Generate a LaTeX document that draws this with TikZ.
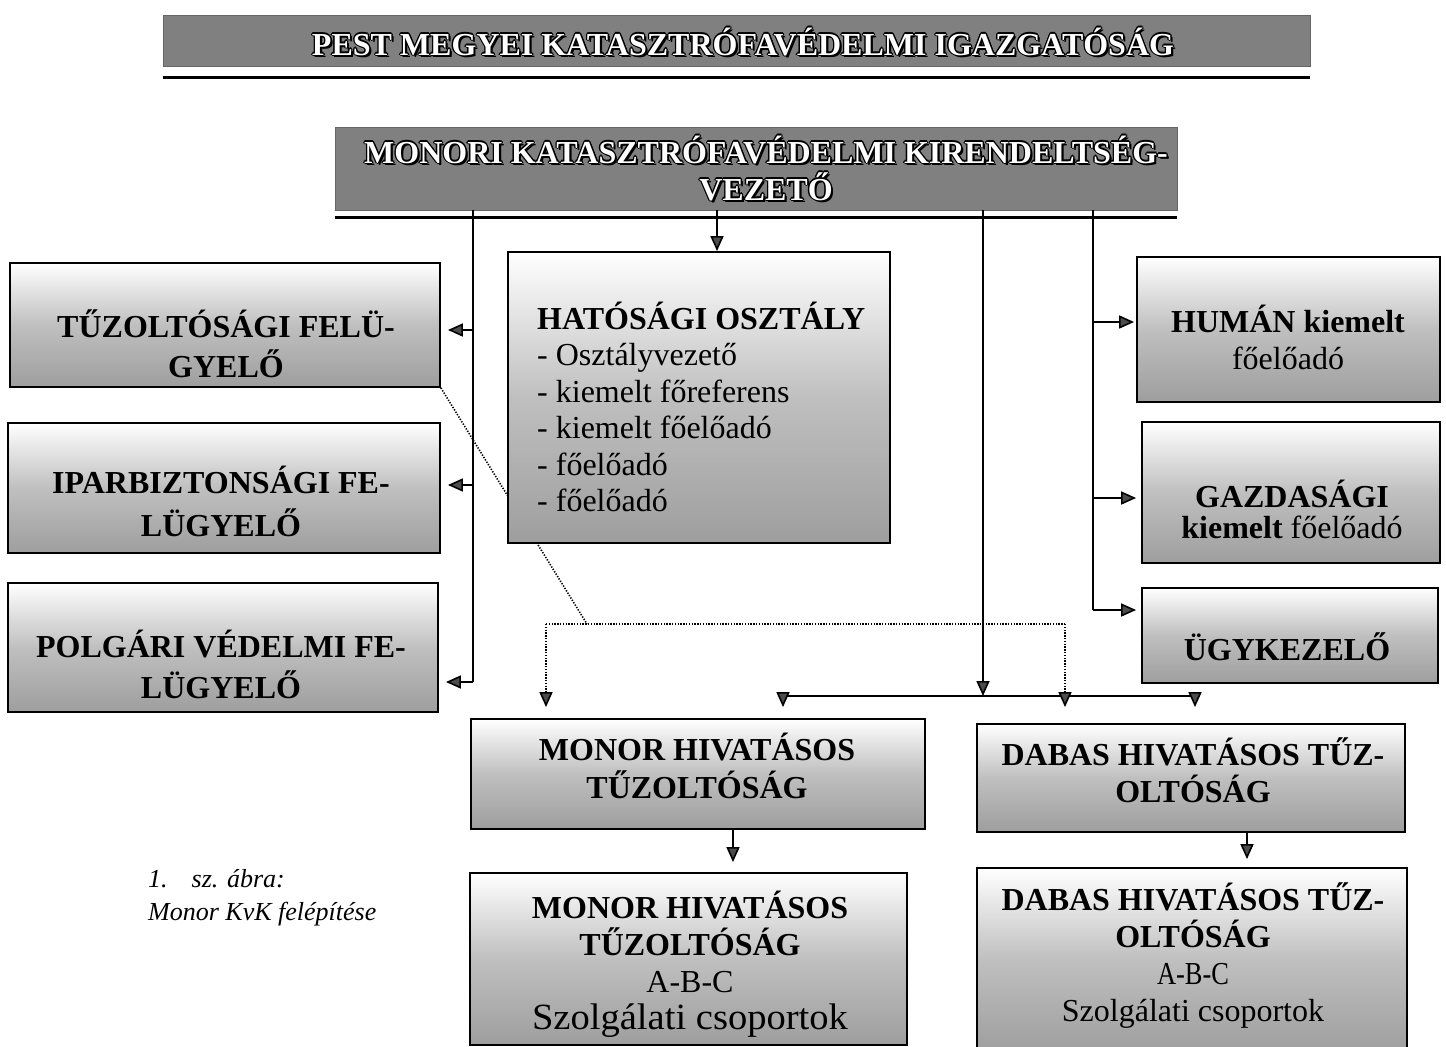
\documentclass[tikz,border=0pt]{standalone}
\usepackage{fontspec}
\setmainfont{Liberation Serif}
\usepackage{graphicx}
\usetikzlibrary{arrows.meta,backgrounds}
\newcommand\olA[3]{\rlap{\hspace*{#1}\raisebox{#2}{\color{black}#3}}}
\newcommand\outl[1]{\olA{2.2pt}{-2.2pt}{#1}\olA{1.3pt}{0pt}{#1}\olA{-1.3pt}{0pt}{#1}\olA{0pt}{1.3pt}{#1}\olA{0pt}{-1.3pt}{#1}\olA{0.9pt}{0.9pt}{#1}\olA{-0.9pt}{0.9pt}{#1}\olA{0.9pt}{-0.9pt}{#1}\olA{-0.9pt}{-0.9pt}{#1}{\color{white}#1}}
\newcommand\fw[2]{\resizebox{#1}{\height}{#2}}
\begin{document}
\begin{tikzpicture}[x=1pt,y=-1pt,
  darkbox/.style={draw=black!60, line width=0.6pt, fill=black!50, inner sep=0pt},
  lbox/.style={draw=black, line width=1.8pt, inner sep=0pt, top color=white, bottom color=black!38, middle color=black!25},
  btxt/.style={inner sep=0pt, font=\fontsize{32}{38}\selectfont\bfseries, align=center, anchor=base},
  otxt/.style={inner sep=0pt, font=\fontsize{32}{37}\selectfont\bfseries, align=center, anchor=base},
  link/.style={line width=1.6pt},
  arr/.style={line width=1.6pt, -{Triangle[length=15pt,width=13pt,fill=black!70]}},
  dot/.style={line width=1.6pt, dash pattern=on 1.3pt off 1.5pt},
  darr/.style={line width=1.6pt, dash pattern=on 1.3pt off 1.5pt, -{Triangle[length=15pt,width=13pt,fill=black!70]}}]
\useasboundingbox (0,0) rectangle (1446,1047);
\begin{pgfonlayer}{background}
\fill[white] (0,0) rectangle (1446,1047);
\end{pgfonlayer}

% top boxes
\node[darkbox, minimum width=1147pt, minimum height=51pt] (T0) at (736.5,40.5) {};
\draw[line width=3pt] ([yshift=-11pt]T0.south west) -- ([yshift=-11pt]T0.south east);
\node[otxt] (T0t) at (743,55) {\outl{PEST MEGYEI KATASZTRÓFAVÉDELMI IGAZGATÓSÁG}};

\node[darkbox, minimum width=842pt, minimum height=83pt] (M0) at (756,168.5) {};
\draw[line width=3pt] ([yshift=-7pt]M0.south west) -- ([yshift=-7pt]M0.south east);
\node[otxt] (M0t) at (766,200) {\outl{MONORI KATASZTRÓFAVÉDELMI KIRENDELTSÉG-}\\\outl{VEZETŐ}};

% boxes
\node[lbox, minimum width=382pt, minimum height=291pt] (H) at (699,397.5) {};
\node[lbox, minimum width=430pt, minimum height=124pt] (tuz) at (225,325) {};
\node[lbox, minimum width=432pt, minimum height=130pt] (ipar) at (224,488) {};
\node[lbox, minimum width=430pt, minimum height=129pt] (polg) at (223,647.5) {};
\node[lbox, minimum width=303pt, minimum height=145pt] (human) at (1288.5,329.5) {};
\node[lbox, minimum width=298pt, minimum height=141pt] (gazd) at (1291,492.5) {};
\node[lbox, minimum width=296pt, minimum height=95pt] (ugy) at (1290,635.5) {};
\node[lbox, minimum width=454pt, minimum height=110pt] (mon1) at (698,774) {};
\node[lbox, minimum width=428pt, minimum height=108pt] (dab1) at (1191,778) {};
\node[lbox, minimum width=437pt, minimum height=172pt] (mon2) at (688.5,959) {};
\node[lbox, minimum width=430pt, minimum height=184pt] (dab2) at (1192,960) {};

% texts (anchor base = last line)
\node[btxt, font=\fontsize{32}{40}\selectfont\bfseries] (tuzt) at (226,377) {TŰZOLTÓSÁGI FELÜ-\\GYELŐ};
\node[btxt, font=\fontsize{32}{43}\selectfont\bfseries] (ipart) at (221,536) {IPARBIZTONSÁGI FE-\\LÜGYELŐ};
\node[btxt, font=\fontsize{32}{41}\selectfont\bfseries] (polgt) at (221,698) {POLGÁRI VÉDELMI FE-\\LÜGYELŐ};
\node[inner sep=0pt, anchor=base west, align=left, font=\fontsize{32}{36.5}\selectfont] (Ht) at (537,511.5) {\textbf{HATÓSÁGI OSZTÁLY}\\- Osztályvezető\\- kiemelt főreferens\\- kiemelt főelőadó\\- főelőadó\\- főelőadó};
\node[btxt, font=\fontsize{32}{37}\selectfont] (humant) at (1288,369) {\textbf{HUMÁN kiemelt}\\főelőadó};
\node[btxt, font=\fontsize{32}{31}\selectfont] (gazdt) at (1292,538) {\textbf{GAZDASÁGI}\\\textbf{kiemelt} főelőadó};
\node[btxt] (ugyt) at (1287,660) {ÜGYKEZELŐ};
\node[btxt] (mon1t) at (697,798) {MONOR HIVATÁSOS\\TŰZOLTÓSÁG};
\node[btxt, font=\fontsize{32}{37}\selectfont\bfseries] (dab1t) at (1193,802) {DABAS HIVATÁSOS TŰZ-\\OLTÓSÁG};
\node[btxt, font=\fontsize{32}{37}\selectfont] (mon2t) at (690,1029) {\textbf{MONOR HIVATÁSOS}\\\textbf{TŰZOLTÓSÁG}\\A-B-C\\{\fontsize{37}{37}\selectfont\fw{316pt}{Szolgálati csoportok}}};
\node[btxt, font=\fontsize{32}{37}\selectfont] (dab2t) at (1193,1021) {\textbf{DABAS HIVATÁSOS TŰZ-}\\\textbf{OLTÓSÁG}\\\fw{72pt}{A-B-C}\\Szolgálati csoportok};
\node[inner sep=0pt, anchor=base west, align=left, font=\fontsize{26}{33}\selectfont\itshape] (cap) at (148,920) {1.\hspace{24pt}sz. ábra:\\Monor KvK felépítése};

% trunk coordinates
\coordinate (tL) at (473,210);
\coordinate (tH) at (717,210);
\coordinate (tC) at (983,210);
\coordinate (tR) at (1093,210);
\coordinate (barL) at (783,696);
\coordinate (barC) at (983,696);
\coordinate (barR) at (1195,696);
\coordinate (dj) at (587,624);
\coordinate (dL) at (546,624);
\coordinate (dR) at (1065,624);
\coordinate (ms) at ([xshift=35pt]mon1.south);
\coordinate (ds) at ([xshift=56pt]dab1.south);

% left trunk
\draw[link] (tL) -- ([yshift=-34.5pt]polg.east -| tL);
\draw[arr] ([yshift=-5pt]tuz.east -| tL) -- ([xshift=7pt,yshift=-5pt]tuz.east);
\draw[arr] ([yshift=3pt]ipar.east -| tL) -- ([xshift=7pt,yshift=3pt]ipar.east);
\draw[arr] ([yshift=-34.5pt]polg.east -| tL) -- ([xshift=7pt,yshift=-34.5pt]polg.east);
% to HATOSAGI
\draw[arr] (tH) -- (tH |- H.north);
% right trunk
\draw[link] (tR) -- ([yshift=25.5pt]ugy.west -| tR);
\draw[arr] ([yshift=7.5pt]human.west -| tR) -- ([xshift=-2pt,yshift=7.5pt]human.west);
\draw[arr] ([yshift=-5.5pt]gazd.west -| tR) -- ([xshift=-5pt,yshift=-5.5pt]gazd.west);
\draw[arr] ([yshift=25.5pt]ugy.west -| tR) -- ([xshift=-5pt,yshift=25.5pt]ugy.west);
% centre
\draw[arr] (tC) -- (barC);
\draw[link] (barL) -- (barR);
\draw[arr] (barL) -- ([yshift=11pt]mon1.north -| barL);
\draw[arr] (barR) -- ([yshift=16pt]dab1.north -| barR);
\draw[arr] (ms) -- ([yshift=10pt]mon2.north -| ms);
\draw[arr] (ds) -- ([yshift=8pt]dab2.north -| ds);

% dotted links (diagonal passes behind the HATOSAGI box)
\begin{pgfonlayer}{background}
\draw[dot] (tuz.south east) -- (dj);
\end{pgfonlayer}
\draw[dot] (dL) -- (dR);
\draw[darr] (dL) -- ([yshift=11pt]mon1.north -| dL);
\draw[darr] (dR) -- ([yshift=16pt]dab1.north -| dR);
\end{tikzpicture}
\end{document}
